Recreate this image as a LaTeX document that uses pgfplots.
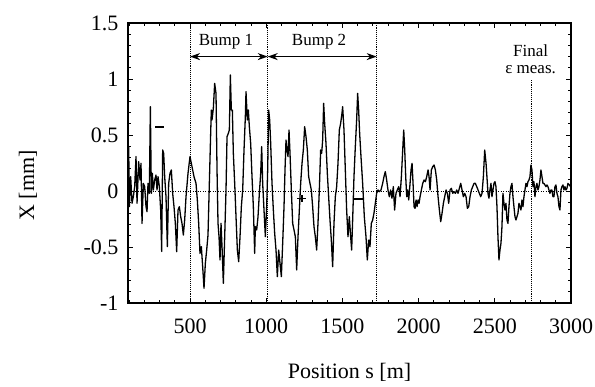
\documentclass[border=0pt]{standalone}
\usepackage{pgfplots}
\pgfplotsset{compat=1.18}
\usepackage{fontspec}
\setmainfont{Liberation Serif}
\usetikzlibrary{arrows.meta}
\pgfplotstableread{
s v
93 0.128
97.5 0.396
101.9 -0.14
110.6 0.128
119.4 -0.11
128.1 -0.05
136.9 0.039
145.6 0.307
152.2 -0.11
163.1 0.262
171.9 0.098
178.4 0.247
185 -0.289
193.7 0.068
202.5 0.039
211.2 -0.14
217.8 -0.185
224.3 0.068
233.1 -0.021
239.7 0.753
246.2 -0.021
252.8 0.158
259.3 0.009
268.1 0.098
276.8 0.143
283.4 0.009
290 0.128
298.7 0.039
307.4 -0.17
314 -0.54
320.6 0.366
327.1 0.336
333.7 0.128
342.4 -0.051
351.2 -0.497
359.9 0.068
368.7 0.158
377.4 0.188
386.2 -0.021
394.9 -0.14
403.7 -0.289
412.4 -0.542
421.2 -0.17
429.9 -0.14
438.7 -0.229
447.4 -0.289
456.2 -0.393
464.9 -0.259
473.7 -0.051
486.8 0.158
499.9 0.307
513 0.217
526.1 0.128
539.3 0.068
548 -0.08
556.8 -0.289
565.5 -0.557
574.3 -0.497
583 -0.676
591.8 -0.869
600.5 -0.646
609.3 -0.527
618 -0.393
626.8 0.068
635.5 0.515
639.9 0.723
644.2 0.634
653 0.738
661.7 0.961
670.5 0.872
677.2 0.188
683.7 -0.289
690.3 -0.408
696.8 -0.616
703.4 -0.289
710 -0.497
718.7 -0.824
727.5 -0.408
736.2 0.009
742.8 0.485
751.5 0.515
758.1 0.545
764.6 1.036
771.2 0.723
777.8 0.723
784.3 0.336
793.1 0.068
801.8 -0.229
810.6 -0.527
819.3 -0.631
828.1 -0.408
836.8 -0.14
845.6 0.009
854.3 0.366
863.1 0.664
867.4 0.887
876.2 0.634
882.7 0.723
889.3 0.574
898 0.426
906.8 0.128
915.5 -0.14
924.3 -0.557
928.7 -0.318
937.4 -0.348
946.2 -0.229
954.9 -0.021
963.7 0.158
970.2 0.396
976.8 0.068
985.5 -0.17
994.3 -0.408
1003 -0.14
1009.6 0.188
1016.1 0.723
1022.7 0.634
1029.3 0.426
1038 0.068
1046.8 -0.17
1055.5 -0.378
1064.3 -0.527
1073 -0.765
1081.8 -0.527
1090.5 -0.646
1099.3 -0.765
1108 -0.467
1116.8 -0.14
1123.3 0.188
1129.9 0.455
1136.4 0.366
1143 0.307
1149.6 0.545
1156.1 0.336
1164.9 0.009
1173.6 -0.289
1182.4 -0.348
1191.1 -0.408
1199.9 -0.705
1208.6 -0.408
1217.4 -0.17
1226.1 0.068
1234.9 0.247
1243.6 0.366
1252.3 0.574
1261.1 0.485
1269.8 0.366
1278.5 0.128
1287.2 0.068
1296 0.009
1304.7 -0.14
1313.5 -0.318
1322.2 -0.408
1331 -0.527
1339.7 -0.289
1348.5 0.009
1357.2 0.366
1363.8 0.336
1370.4 0.455
1376.9 0.783
1383.5 0.604
1392.2 0.426
1401 0.158
1409.7 -0.051
1418.5 -0.259
1427.2 -0.438
1436 -0.676
1444.7 -0.289
1453.5 -0.051
1462.2 0.039
1471 0.247
1479.7 0.545
1488.4 0.604
1497.2 0.693
1501.6 0.753
1510.3 0.545
1519.1 0.188
1527.8 -0.17
1536.6 -0.408
1545.3 -0.229
1554.1 -0.408
1560.6 -0.527
1567.2 -0.259
1575.9 0.128
1584.7 0.396
1593.4 0.634
1600 0.872
1606.5 0.723
1613.1 0.515
1621.9 0.307
1632.8 0.068
1643.7 -0.229
1654.7 -0.408
1663.4 -0.616
1672.2 -0.438
1680.9 -0.497
1689.7 -0.289
1698.4 -0.259
1707.1 -0.199
1715.9 -0.11
1724.6 -0.021
1733.4 0.009
1742.1 -0.006
1753.1 0.009
1764 0.068
1772.8 0.128
1781.5 0.173
1790.3 0.098
1799 0.009
1807.8 -0.051
1816.5 0.009
1825.2 -0.065
1834 0.039
1842.7 -0.17
1851.5 -0.021
1860.2 0.009
1869.5 0.039
1878.2 -0.051
1887 0.128
1895.7 0.366
1902.3 0.545
1908.9 0.366
1915.4 0.128
1922 -0.051
1928.5 0.009
1935.1 -0.08
1943.9 0.068
1950.4 0.188
1957 0.247
1963.5 0.068
1970.1 -0.14
1976.7 -0.155
1983.2 -0.08
1989.8 -0.14
1996.3 -0.08
2002.9 -0.11
2009.5 -0.051
2018.2 0.009
2027 0.068
2035.7 0.098
2044.5 0.083
2053.2 0.128
2062 0.188
2068.5 0.128
2075.1 0.009
2083.8 0.188
2092.6 0.217
2101.3 0.232
2110.1 0.188
2118.8 0.098
2127.6 -0.051
2136.3 -0.17
2145.1 -0.274
2153.8 -0.199
2162.6 -0.11
2171.3 -0.051
2180.1 0.009
2188.8 -0.021
2197.5 -0.11
2206.3 0.009
2215 0.024
2223.8 -0.021
2232.5 -0.006
2241.3 -0.021
2250 0.009
2258.8 -0.021
2267.5 0.024
2276.3 0.068
2285 0.009
2293.8 -0.051
2302.5 -0.021
2311.3 -0.051
2320 -0.155
2328.8 -0.14
2337.5 -0.051
2346.3 0.009
2355 0.039
2363.8 0.068
2372.5 0.068
2381.3 0.039
2390 0.009
2398.8 -0.021
2407.5 -0.051
2416.2 -0.021
2425 0.128
2433.7 0.366
2442.5 0.247
2451.2 0.068
2455.1 -0.021
2461.7 -0.065
2468.2 0.009
2474.8 0.068
2481.4 -0.051
2487.9 0.009
2494.5 0.068
2501 0.083
2507.6 0.039
2514.2 -0.14
2520.7 -0.408
2527.3 -0.616
2533.9 -0.527
2540.4 -0.467
2547 -0.318
2553.5 -0.021
2560.1 -0.11
2566.7 -0.17
2573.2 -0.11
2579.8 -0.259
2586.3 -0.289
2592.9 -0.14
2599.5 -0.021
2606 0.039
2612.6 0.068
2619.1 -0.051
2625.7 -0.14
2632.3 -0.229
2638.8 -0.259
2645.4 -0.229
2652 -0.199
2658.5 -0.11
2665.1 -0.14
2671.6 -0.17
2678.2 -0.08
2684.8 -0.14
2691.3 -0.051
2697.9 0.009
2704.4 0.068
2711 0.039
2717.6 0.083
2724.1 0.098
2730.7 0.128
2737.2 0.232
2743.8 0.188
2750.4 0.039
2756.9 0.083
2763.5 -0.051
2770.1 0.039
2776.6 0.068
2783.2 0.009
2789.7 0.039
2796.3 0.098
2802.9 0.188
2809.4 0.128
2816 0.068
2822.5 0.068
2829.1 0.054
2835.7 0.039
2842.2 0.054
2848.8 0.039
2855.3 0.009
2861.9 -0.021
2868.5 0.009
2875 0.009
2881.6 -0.051
2888.1 -0.051
2894.7 0.039
2901.3 0.054
2907.8 -0.021
2914.4 -0.051
2921 -0.14
2927.5 -0.17
2934.1 0.009
2940.6 0.039
2947.2 0.054
2953.8 0.009
2960.3 0.039
2966.9 0.009
2973.4 0.024
2980 0.068
2988.7 0.054
2997.5 0.039
}\orbit
\begin{document}
\begin{tikzpicture}
\begin{axis}[
  scale only axis,
  width=443pt, height=280pt,
  xmin=93, xmax=3000, ymin=-1, ymax=1.5,
  xtick={500,1000,1500,2000,2500,3000},
  ytick={-1,-0.5,0,0.5,1,1.5},
  minor xtick={100,200,300,400,600,700,800,900,1100,1200,1300,1400,1600,1700,1800,1900,2100,2200,2300,2400,2600,2700,2800,2900},
  minor ytick={-0.9,-0.8,-0.7,-0.6,-0.4,-0.3,-0.2,-0.1,0.1,0.2,0.3,0.4,0.6,0.7,0.8,0.9,1.1,1.2,1.3,1.4},
  major tick length=5pt, minor tick length=3pt,
  tick style={black, line width=0.8pt},
  axis line style={line width=1.3pt},
  /pgf/number format/assume math mode=true,
  /pgf/number format/1000 sep={},
  tick label style={font=\fontsize{22}{26}\selectfont},
  xticklabel style={yshift=-12pt},
  yticklabel style={xshift=-6pt},
  xlabel={Position s [m]},
  ylabel={X [mm]},
  label style={font=\fontsize{22}{26}\selectfont},
  xlabel style={at={(axis description cs:0.5,-0.246)}, anchor=center},
  ylabel style={at={(axis description cs:-0.226,0.42)}, anchor=center},
]
\coordinate (ll) at (rel axis cs:0,0);
\coordinate (ur) at (rel axis cs:1,1);
\addplot [black, line width=0.5pt, dotted] coordinates {(93,0) (3000,0)};
\addplot [black, line width=0.9pt, densely dotted] coordinates {(500,-1) (500,1.5)};
\addplot [black, line width=0.9pt, densely dotted] coordinates {(1010,-1) (1010,1.5)};
\addplot [black, line width=0.9pt, densely dotted] coordinates {(1725,-1) (1725,1.5)};
\addplot [black, line width=0.9pt, densely dotted] coordinates {(2740,-1) (2740,0.99)};
\addplot [black, line width=1.3pt, line join=round] table [x=s, y=v] {\orbit};
\addplot [black, line width=1.6pt] coordinates {(272,0.574) (331,0.574)};
\addplot [black, line width=1.2pt] coordinates {(1202,-0.065) (1261,-0.065)};
\addplot [black, line width=1.2pt] coordinates {(1235,-0.036) (1235,-0.095)};
\addplot [black, line width=1.2pt] coordinates {(1578,-0.071) (1633,-0.071)};
\draw [line width=1.5pt, {Stealth[length=10pt,width=7pt]}-{Stealth[length=10pt,width=7pt]}] (axis cs:500,1.2) -- (axis cs:1010,1.2);
\draw [line width=1.5pt, {Stealth[length=10pt,width=7pt]}-{Stealth[length=10pt,width=7pt]}] (axis cs:1010,1.2) -- (axis cs:1725,1.2);
\node [font=\fontsize{17}{20}\selectfont] at (axis cs:736,1.33) {Bump 1};
\node [font=\fontsize{17}{20}\selectfont] at (axis cs:1347,1.33) {Bump 2};
\node [font=\fontsize{17}{20}\selectfont, align=center, inner sep=0pt] at (axis cs:2735,1.175) {Final\\[-3pt]ε meas.};
\end{axis}
\pgfresetboundingbox
\path ([shift={(-128pt,-84pt)}]ll) rectangle ([shift={(24pt,23pt)}]ur);
\end{tikzpicture}
\end{document}
